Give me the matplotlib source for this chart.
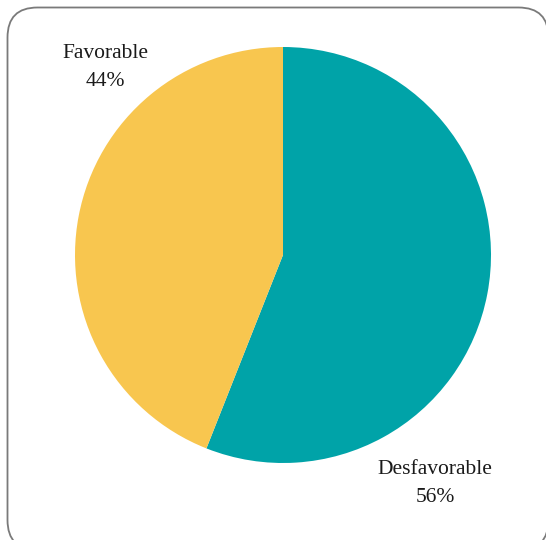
import matplotlib.pyplot as plt
from matplotlib.patches import FancyBboxPatch

labels = ['Desfavorable', 'Favorable']
values = [56, 44]
colors = ['#00A3A8', '#F8C64F']

W, H = 546, 540
fig = plt.figure(figsize=(W / 100, H / 100), dpi=100)
ax = fig.add_axes([0, 0, 1, 1])

# rounded frame, runs off the right and bottom edges
frame = FancyBboxPatch((7.5, -10), 541, 540 - 7.5 + 10,
                       boxstyle='round,pad=0,rounding_size=30',
                       fc='white', ec='#7a7a7a', lw=1.3, zorder=0)
ax.add_patch(frame)

ax.pie(values, colors=colors, startangle=90, counterclock=False,
       center=(283, H - 255), radius=208, frame=True,
       wedgeprops={'linewidth': 0})
ax.set_xlim(0, W)
ax.set_ylim(0, H)
ax.axis('off')

font = dict(family='Liberation Serif', size=15.5, color='#1a1a1a', ha='center', va='center')
ax.text(105, H - 53, labels[1], **font)
ax.text(105, H - 82, f'{values[1]}%', **font)
ax.text(435, H - 470, labels[0], **font)
ax.text(435, H - 498, f'{values[0]}%', **font)

fig.savefig('out.png', dpi=100)
